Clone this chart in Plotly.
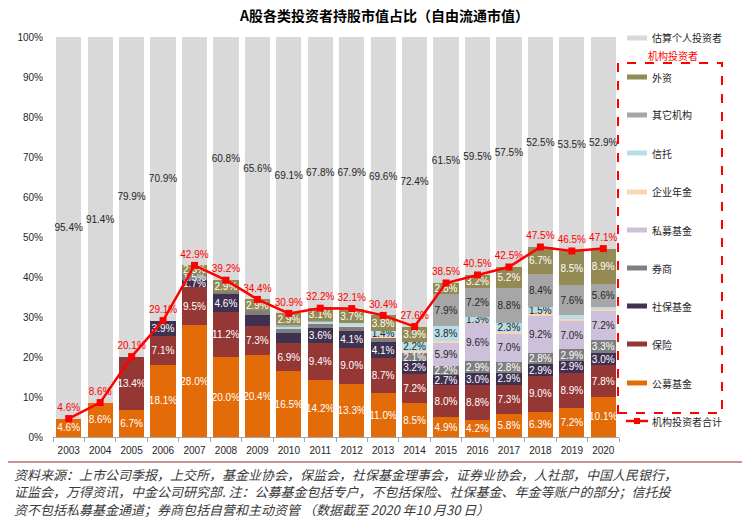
import plotly.graph_objects as go

years = ["2003", "2004", "2005", "2006", "2007", "2008", "2009", "2010", "2011",
         "2012", "2013", "2014", "2015", "2016", "2017", "2018", "2019", "2020"]

gongmu = [4.6, 8.6, 6.7, 18.1, 28.0, 20.0, 20.4, 16.5, 14.2, 13.3, 11.0, 8.5, 4.9, 4.2, 5.8, 6.3, 7.2, 10.1]
baoxian = [0, 0, 13.4, 7.1, 9.5, 11.2, 7.3, 6.9, 9.4, 9.0, 8.7, 7.2, 8.0, 8.8, 7.3, 9.0, 8.9, 7.8]
shebao = [0, 0, 0, 3.9, 1.7, 4.6, 2.9, 2.7, 3.6, 4.1, 4.1, 3.2, 2.7, 3.0, 2.9, 2.9, 2.9, 3.0]
quanshang = [0, 0, 0, 0, 1.5, 0.5, 0.9, 1.0, 1.0, 1.1, 1.0, 2.1, 2.2, 2.9, 2.8, 2.8, 2.9, 3.3]
simu = [0, 0, 0, 0, 0, 0, 0, 0, 0, 0, 0, 0, 5.9, 9.6, 7.0, 9.2, 7.0, 7.2]
nianjin = [0, 0, 0, 0, 0, 0, 0, 0, 0, 0.2, 0.4, 0.5, 0.3, 0.3, 0.4, 0.7, 0.7, 0.5]
xintuo = [0, 0, 0, 0, 0, 0, 0, 0.5, 0.6, 0.7, 1.4, 2.2, 3.8, 1.3, 2.3, 1.5, 0.8, 0.7]
qita = [0, 0, 0, 0, 0, 0, 0, 0.4, 0.3, 0, 0, 0, 7.9, 7.2, 8.8, 8.4, 7.6, 5.6]
waizi = [0, 0, 0, 0, 2.3, 2.9, 2.9, 2.9, 3.1, 3.7, 3.8, 3.9, 2.8, 3.2, 5.2, 6.7, 8.5, 8.9]
geren = [95.4, 91.4, 79.9, 70.9, 57.1, 60.8, 65.6, 69.1, 67.8, 67.9, 69.6, 72.4, 61.5, 59.5, 57.5, 52.5, 53.5, 52.9]
total = [4.6, 8.6, 20.1, 29.1, 42.9, 39.2, 34.4, 30.9, 32.2, 32.1, 30.4, 27.6, 38.5, 40.5, 42.5, 47.5, 46.5, 47.1]

# which data labels are displayed (1 = shown)
mask_gongmu = [1] * 18
mask_baoxian = [0, 0] + [1] * 16
mask_shebao = [0, 0, 0, 1, 1, 1, 0, 0, 1, 1, 1, 1, 1, 1, 1, 1, 1, 1]
mask_quanshang = [0, 0, 0, 0, 1, 0, 0, 0, 0, 0, 0, 1, 1, 1, 1, 1, 1, 1]
mask_simu = [0] * 12 + [1] * 6
mask_nianjin = [0] * 18
mask_xintuo = [0] * 10 + [1, 1, 1, 1, 1, 1, 0, 0]
mask_qita = [0] * 12 + [1] * 6
mask_waizi = [0] * 4 + [1] * 14
mask_geren = [1] * 18

series = [
    ("公募基金", gongmu, mask_gongmu, "#E36C09", "white"),
    ("保险", baoxian, mask_baoxian, "#953735", "white"),
    ("社保基金", shebao, mask_shebao, "#403151", "white"),
    ("券商", quanshang, mask_quanshang, "#7F7F7F", "white"),
    ("私募基金", simu, mask_simu, "#CCC0DA", "#262626"),
    ("企业年金", nianjin, mask_nianjin, "#FCD5B5", "#262626"),
    ("信托", xintuo, mask_xintuo, "#B7DEE8", "#262626"),
    ("其它机构", qita, mask_qita, "#A6A6A6", "#262626"),
    ("外资", waizi, mask_waizi, "#948A54", "white"),
    ("估算个人投资者", geren, mask_geren, "#D9D9D9", "#262626"),
]

NUMFONT = "Liberation Sans, Arial, Noto Sans CJK SC"
CJK = "Noto Sans CJK SC, Liberation Sans"

fig = go.Figure()
for name, vals, mask, color, tcolor in series:
    fig.add_trace(go.Bar(
        x=years, y=vals, name=name,
        marker=dict(color=color, line=dict(width=0)),
        text=[f"{v:.1f}%" if m else "" for v, m in zip(vals, mask)],
        textposition="inside", insidetextanchor="middle", textangle=0,
        constraintext="none",
        textfont=dict(family=NUMFONT, size=10, color=tcolor),
        showlegend=False, hoverinfo="skip",
    ))

fig.add_trace(go.Scatter(
    x=years, y=total, name="机构投资者合计",
    mode="lines+markers+text",
    line=dict(color="#FF0000", width=2.5),
    marker=dict(symbol="square", size=7, color="#FF0000"),
    text=[f"{v:.1f}%" for v in total], textposition="top center",
    textfont=dict(family=NUMFONT, size=10, color="#FF0000"),
    showlegend=False, hoverinfo="skip", cliponaxis=False,
))

# plot area in pixels
L, R, T, B = 53, 619, 37, 437
W, H = 748, 519


def px(x):
    return (x - L) / (R - L)


def py(y):
    return (B - y) / (B - T)


shapes = []
annotations = []

# custom legend
legend_items = [
    ("估算个人投资者", "#D9D9D9", 38),
    ("外资", "#948A54", 77),
    ("其它机构", "#A6A6A6", 115),
    ("信托", "#B7DEE8", 153),
    ("企业年金", "#FCD5B5", 192),
    ("私募基金", "#CCC0DA", 230),
    ("券商", "#7F7F7F", 268),
    ("社保基金", "#403151", 306),
    ("保险", "#953735", 344),
    ("公募基金", "#E36C09", 383),
]
for name, color, yy in legend_items:
    shapes.append(dict(type="rect", xref="paper", yref="paper",
                       x0=px(627), x1=px(647), y0=py(yy + 2.5), y1=py(yy - 2.5),
                       fillcolor=color, line=dict(width=0)))
    annotations.append(dict(xref="paper", yref="paper", x=px(650), y=py(yy),
                            text=name, showarrow=False, xanchor="left", yanchor="middle",
                            font=dict(family=CJK, size=10, color="#262626")))

# line legend entry
shapes.append(dict(type="line", xref="paper", yref="paper",
                   x0=px(626), x1=px(648), y0=py(421), y1=py(421),
                   line=dict(color="#FF0000", width=2.5)))
shapes.append(dict(type="rect", xref="paper", yref="paper",
                   x0=px(634), x1=px(640), y0=py(424), y1=py(418),
                   fillcolor="#FF0000", line=dict(width=0)))
annotations.append(dict(xref="paper", yref="paper", x=px(650), y=py(421),
                        text="机构投资者合计", showarrow=False, xanchor="left", yanchor="middle",
                        font=dict(family=CJK, size=10, color="#262626")))

# dashed box for institutional investors
shapes.append(dict(type="rect", xref="paper", yref="paper",
                   x0=px(618), x1=px(722), y0=py(413), y1=py(63),
                   line=dict(color="#FF0000", width=2, dash="dash"),
                   fillcolor="rgba(0,0,0,0)"))
annotations.append(dict(xref="paper", yref="paper", x=px(673), y=py(55),
                        text="机构投资者", showarrow=False, xanchor="center", yanchor="middle",
                        font=dict(family=CJK, size=10, color="#FF0000")))

# title
annotations.append(dict(xref="paper", yref="paper", x=px(384), y=py(15),
                        text="<b>A股各类投资者持股市值占比（自由流通市值）</b>", showarrow=False,
                        xanchor="center", yanchor="middle",
                        font=dict(family=CJK, size=14, color="#000000")))

# footnote rule
shapes.append(dict(type="line", xref="paper", yref="paper",
                   x0=px(8), x1=px(742), y0=py(462), y1=py(462),
                   line=dict(color="#8B2A2A", width=1.2)))

foot_lines = [
    "资料来源：上市公司季报，上交所，基金业协会，保监会，社保基金理事会，证券业协会，人社部，中国人民银行，",
    "证监会，万得资讯，中金公司研究部. 注：公募基金包括专户，不包括保险、社保基金、年金等账户的部分；信托投",
    "资不包括私募基金通道；券商包括自营和主动资管 （数据截至 2020 年10 月30 日）",
]
for i, line in enumerate(foot_lines):
    annotations.append(dict(xref="paper", yref="paper", x=px(12), y=py(474 + 17.5 * i),
                            text=f"<i>{line}</i>", showarrow=False, xanchor="left", yanchor="middle",
                            font=dict(family=CJK, size=13, color="#3A3A3A")))

fig.update_layout(
    width=W, height=H,
    margin=dict(l=L, r=W - R, t=T, b=H - B, pad=0, autoexpand=False),
    barmode="stack", bargap=0.2,
    paper_bgcolor="white", plot_bgcolor="white",
    shapes=shapes, annotations=annotations,
    xaxis=dict(type="category", range=[-0.5, len(years) - 0.5],
               showgrid=False, showline=True, linecolor="#A6A6A6", linewidth=1,
               ticks="outside", tickson="boundaries", ticklen=4, tickcolor="#A6A6A6",
               tickangle=0, automargin=False, ticklabelstandoff=4,
               tickfont=dict(family=NUMFONT, size=10, color="#262626")),
    yaxis=dict(range=[0, 100], dtick=10, ticksuffix="%", showgrid=False, showline=False,
               zeroline=False, ticks="", automargin=False, ticklabelstandoff=9,
               tickfont=dict(family=NUMFONT, size=10, color="#262626")),
    font=dict(family=NUMFONT),
)

fig.write_html("out.html", config={"displayModeBar": False},
               post_script="document.body.style.margin='0';document.body.style.overflow='hidden';")
